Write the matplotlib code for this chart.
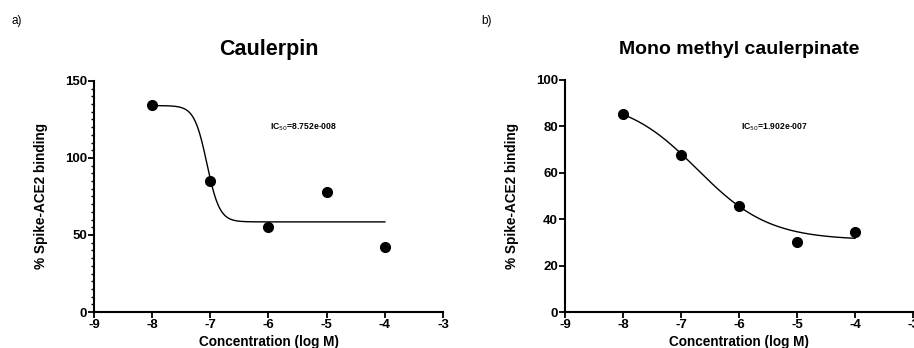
import numpy as np
import matplotlib
matplotlib.use("Agg")
import matplotlib.pyplot as plt
from matplotlib.ticker import MultipleLocator

plt.rcParams['font.family'] = ['Liberation Sans', 'DejaVu Sans']

# Data (log M concentrations and % binding)
conc = [-8, -7, -6, -5, -4]
caulerpin = [134.5, 84.8, 55.2, 77.6, 42.2]
mmc = [85.5, 67.7, 45.8, 30.0, 34.3]

# Fitted curve parameters (top, bottom, logIC50, Hill slope)
fit_caulerpin = dict(top=134.0, bottom=58.5, logic50=np.log10(8.752e-8), hill=4.0)
fit_mmc = dict(top=92.0, bottom=31.0, logic50=np.log10(1.902e-7), hill=0.7)

titles = ["Caulerpin", "Mono methyl caulerpinate"]
ic50_labels = ["8.752e-008", "1.902e-007"]
panel_labels = ["a)", "b)"]
xticks = [-9, -8, -7, -6, -5, -4, -3]


def logistic(x, top, bottom, logic50, hill):
    return bottom + (top - bottom) / (1 + 10 ** ((x - logic50) * hill))


fig = plt.figure(figsize=(9.14, 3.48), dpi=100)

axes_rects = [[0.1028, 0.1034, 0.3819, 0.664], [0.6182, 0.1034, 0.3807, 0.667]]
ylims = [(0, 150), (0, 100)]
ymajor = [50, 20]
yminor = [5, None]
ic50_pos = [(-5.97, 120), (-5.97, 79.7)]
datas = [caulerpin, mmc]
fits = [fit_caulerpin, fit_mmc]
label_x = [0.013, 0.527]
title_sizes = [15.5, 14]

for i in range(2):
    ax = fig.add_axes(axes_rects[i])
    ax.plot(conc, datas[i], 'o', color='black', markersize=7, zorder=3, clip_on=False)
    xs = np.linspace(conc[0], conc[-1], 400)
    ax.plot(xs, logistic(xs, **fits[i]), color='black', lw=1.0)
    ax.set_xlim(-9, -3)
    ax.set_ylim(*ylims[i])
    ax.set_xticks(xticks)
    ax.set_xticklabels([str(t) for t in xticks])
    ax.yaxis.set_major_locator(MultipleLocator(ymajor[i]))
    if yminor[i]:
        ax.yaxis.set_minor_locator(MultipleLocator(yminor[i]))
    for s in ['top', 'right']:
        ax.spines[s].set_visible(False)
    for s in ['left', 'bottom']:
        ax.spines[s].set_linewidth(1.5)
    ax.tick_params(axis='both', which='major', direction='out', length=4, width=1.3,
                   labelsize=9.5, pad=1)
    ax.tick_params(axis='y', which='minor', direction='out', length=2.5, width=1.0)
    for lab in ax.get_xticklabels() + ax.get_yticklabels():
        lab.set_fontweight('bold')
    ax.set_xlabel("Concentration (log M)", fontsize=9.8, fontweight='bold', labelpad=3)
    ax.set_ylabel("% Spike-ACE2 binding", fontsize=9.8, fontweight='bold', labelpad=12)
    ax.set_title(titles[i], fontsize=title_sizes[i], fontweight='bold', pad=19)
    ax.text(ic50_pos[i][0], ic50_pos[i][1],
            r"IC$_{50}$=" + ic50_labels[i], fontsize=6.2, fontweight='bold',
            va='center', ha='left')
    fig.text(label_x[i], 0.94, panel_labels[i], fontsize=8.5, va='center', ha='left')

fig.savefig("out.png", dpi=100)
